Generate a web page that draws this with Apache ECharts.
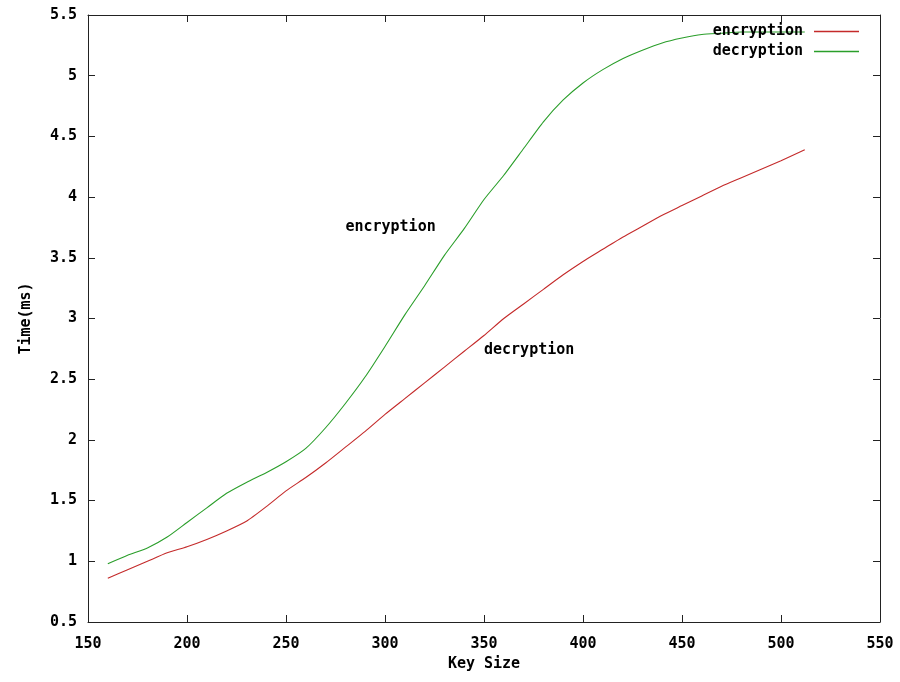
<!DOCTYPE html>
<html>
<head>
<meta charset="utf-8">
<script src="https://cdn.jsdelivr.net/npm/echarts@6/dist/echarts.min.js"></script>
<style>html,body{margin:0;padding:0;background:#fff}#c{width:900px;height:682px}</style>
</head>
<body>
<div id="c"></div>
<script>
var keySizes = [160,170,180,190,200,210,220,230,240,250,260,270,280,290,300,310,320,330,340,350,360,370,380,390,400,410,420,430,440,450,460,470,480,490,500,512];
var encryption = [0.86,0.93,1.00,1.07,1.12,1.18,1.25,1.33,1.45,1.58,1.69,1.81,1.94,2.07,2.21,2.34,2.47,2.60,2.73,2.86,3.00,3.12,3.24,3.36,3.47,3.57,3.67,3.76,3.85,3.93,4.01,4.09,4.16,4.23,4.30,4.39];
var decryption = [0.98,1.05,1.11,1.20,1.32,1.44,1.56,1.65,1.73,1.82,1.93,2.10,2.30,2.52,2.77,3.03,3.27,3.52,3.74,3.98,4.18,4.40,4.62,4.80,4.94,5.05,5.14,5.21,5.27,5.31,5.34,5.35,5.36,5.36,5.36,5.36];
var labelTexts = ['encryption','decryption'];
var labelPoints = [[280,3.75],[350,2.74]];
var xTicks = {min:150,max:550,interval:50};
var yTicks = {min:0.5,max:5.5,interval:0.5};

var FONT = '"DejaVu Sans Mono", "Liberation Mono", monospace';
var txt = {fontFamily: FONT, fontWeight: 'bold', fontSize: 15, color: '#000'};
var axisLine = {show:true, lineStyle:{color:'#222', width:1}};
var tickIn = {show:true, inside:true, length:7, lineStyle:{color:'#222'}};

function pairs(xs, ys){ return xs.map(function(x,i){return [x, ys[i]];}); }

var chart = echarts.init(document.getElementById('c'));
chart.setOption({
  animation:false,
  backgroundColor:'#fff',
  grid:{left:88,right:20,top:15,bottom:60,containLabel:false},
  legend:{
    data:['encryption','decryption'],
    orient:'vertical', right:36, top:19, align:'right',
    itemWidth:45, itemHeight:14, itemGap:5,
    icon:'path://M0,6 L45,6 L45,7.5 L0,7.5 Z',
    textStyle:Object.assign({}, txt, {padding:[0,6,0,0]})
  },
  xAxis:[{
    type:'value', min:xTicks.min, max:xTicks.max, interval:xTicks.interval,
    name:'Key Size', nameLocation:'middle', nameGap:35, nameTextStyle:txt,
    axisLine:axisLine, axisTick:tickIn, splitLine:{show:false},
    axisLabel:Object.assign({}, txt, {margin:15})
  },{
    type:'value', position:'top', min:xTicks.min, max:xTicks.max, interval:xTicks.interval,
    axisLine:axisLine, axisTick:tickIn, splitLine:{show:false}, axisLabel:{show:false}
  }],
  yAxis:[{
    type:'value', min:yTicks.min, max:yTicks.max, interval:yTicks.interval,
    name:'Time(ms)', nameLocation:'middle', nameGap:54, nameRotate:90, nameTextStyle:txt,
    axisLine:axisLine, axisTick:tickIn, splitLine:{show:false},
    axisLabel:Object.assign({}, txt, {margin:11})
  },{
    type:'value', position:'right', min:yTicks.min, max:yTicks.max, interval:yTicks.interval,
    axisLine:axisLine, axisTick:tickIn, splitLine:{show:false}, axisLabel:{show:false}
  }],
  series:[{
    name:'encryption', type:'line', data:pairs(keySizes, encryption),
    showSymbol:false, symbol:'none', smooth:0.2,
    lineStyle:{color:'#c42a2a', width:1.1}, itemStyle:{color:'#c42a2a'}
  },{
    name:'decryption', type:'line', data:pairs(keySizes, decryption),
    showSymbol:false, symbol:'none', smooth:0.2,
    lineStyle:{color:'#2a9e2a', width:1.1}, itemStyle:{color:'#2a9e2a'}
  },{
    name:'labels', type:'scatter', symbolSize:0, silent:true, itemStyle:{opacity:1},
    data:labelPoints.map(function(p,i){return {value:p, name:labelTexts[i]};}),
    label:{show:true, position:'right', distance:0, formatter:function(p){return p.name;},
      fontFamily:FONT, fontWeight:'bold', fontSize:15, color:'#000', opacity:1}
  }]
});
</script>
</body>
</html>
